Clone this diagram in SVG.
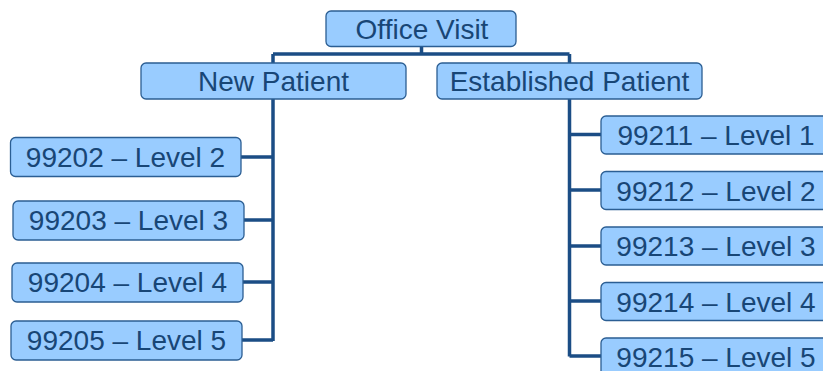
<svg xmlns="http://www.w3.org/2000/svg" width="823" height="371" viewBox="0 0 823 371">
<style>
.box{fill:#99CCFF;stroke:#2B5E93;stroke-width:1.3}
.lbl{font-family:"Liberation Sans",Arial,sans-serif;font-size:28px;fill:#184676;text-anchor:middle}
.conn{fill:none;stroke:#1B4D85;stroke-width:3.5}
</style>
<rect width="823" height="371" fill="#ffffff"/>
<g id="connectors">
<path class="conn" d="M421.5,46 V54 M273,54 H569.5 M273,54 V341 M569.5,54 V356.5"/>
<path class="conn" d="M241,157 H273 M244,220 H273 M243,282 H273 M242,340 H273"/>
<path class="conn" d="M569.5,134.5 H601 M569.5,190 H601 M569.5,246 H601 M569.5,301 H601 M569.5,356 H601"/>
</g>
<g id="office-visit"><rect class="box" x="326" y="11" width="190" height="35.5" rx="5"/><text class="lbl" x="422" y="38.5">Office Visit</text></g>
<g id="new-patient"><rect class="box" x="141" y="63" width="265" height="36" rx="5"/><text class="lbl" x="273.5" y="91">New Patient</text></g>
<g id="established-patient"><rect class="box" x="437" y="63" width="265" height="36" rx="5"/><text class="lbl" x="569.5" y="91">Established Patient</text></g>
<g id="n99202"><rect class="box" x="10.5" y="137.5" width="230.5" height="39" rx="5"/><text class="lbl" x="125.5" y="167">99202 – Level 2</text></g>
<g id="n99203"><rect class="box" x="13" y="201" width="231" height="39" rx="5"/><text class="lbl" x="128.5" y="230">99203 – Level 3</text></g>
<g id="n99204"><rect class="box" x="12" y="263" width="231" height="39" rx="5"/><text class="lbl" x="127.5" y="292">99204 – Level 4</text></g>
<g id="n99205"><rect class="box" x="11" y="321" width="231" height="39" rx="5"/><text class="lbl" x="126.5" y="350">99205 – Level 5</text></g>
<g id="n99211"><rect class="box" x="601" y="116" width="230" height="38" rx="5"/><text class="lbl" x="716" y="145">99211 – Level 1</text></g>
<g id="n99212"><rect class="box" x="601" y="171.5" width="230" height="38" rx="5"/><text class="lbl" x="716" y="200.5">99212 – Level 2</text></g>
<g id="n99213"><rect class="box" x="601" y="227" width="230" height="38" rx="5"/><text class="lbl" x="716" y="256">99213 – Level 3</text></g>
<g id="n99214"><rect class="box" x="601" y="282.5" width="230" height="38" rx="5"/><text class="lbl" x="716" y="311.5">99214 – Level 4</text></g>
<g id="n99215"><rect class="box" x="601" y="338" width="230" height="38" rx="5"/><text class="lbl" x="716" y="367">99215 – Level 5</text></g>
</svg>
